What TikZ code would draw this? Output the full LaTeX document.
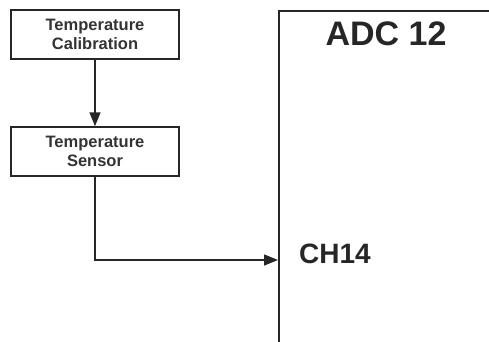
\documentclass[tikz,border=0pt]{standalone}
\usepackage{fontspec}
\setmainfont{Liberation Sans}
\usetikzlibrary{arrows.meta,positioning}
\begin{document}
\begin{tikzpicture}[x=1pt,y=-1pt,
  blk/.style={draw=black!85,line width=1.5pt,minimum width=168pt,minimum height=49pt,inner sep=0pt,align=center,font=\bfseries\fontsize{16.5}{19}\selectfont,text=black!80},
  conn/.style={draw=black!85,line width=1.5pt,-{Triangle[length=14pt,width=11pt]}}]
\useasboundingbox (0,0) rectangle (489,341);
\clip (0,0) rectangle (489,341);
\node[blk] (cal) at (95,34.5) {Temperature\\Calibration};
\node[blk] (sen) at (95,151.5) {Temperature\\Sensor};
\node[draw=black!85,line width=1.5pt,minimum width=240pt,minimum height=345pt,inner sep=0pt,anchor=north west] (adc) at (278,10) {};
\node[font=\bfseries\fontsize{34}{40}\selectfont,text=black!85] (adct) at (386,34) {ADC 12};
\node[font=\bfseries\fontsize{28}{32}\selectfont,text=black!85] (ch) at (335,254) {CH14};
\coordinate (tip) at (278,260);
\draw[conn] (cal) -- (sen);
\draw[conn] (sen.south) |- (tip);
\end{tikzpicture}
\end{document}
